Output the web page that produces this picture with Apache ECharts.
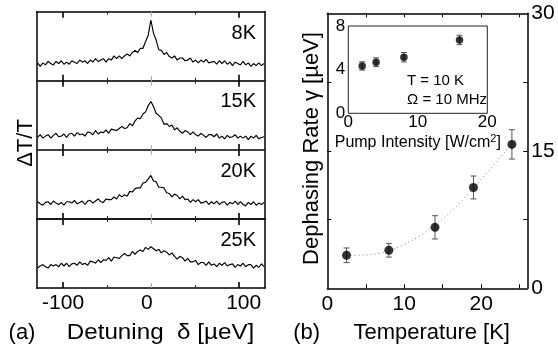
<!DOCTYPE html>
<html><head><meta charset="utf-8">
<script src="https://cdn.jsdelivr.net/npm/echarts@6/dist/echarts.min.js"></script>
<style>html,body{margin:0;padding:0;background:#fff}#c{width:558px;height:353px}</style>
</head><body><div id="c"></div>
<script>
// ---- Panel (a): differential transmission traces ----
const detuning = [-129,-126,-123,-120,-117,-114,-111,-108,-105,-102,-99,-96,-93,-90,-87,-84,-81,-78,-75,-72,-69,-66,-63,-60,-57,-54,-51,-48,-45,-42,-39,-36,-33,-30,-27,-24,-21,-18,-15,-12,-9,-6,-3,0,3,6,9,12,15,18,21,24,27,30,33,36,39,42,45,48,51,54,57,60,63,66,69,72,75,78,81,84,87,90,93,96,99,102,105,108,111,114,117,120,123,126,129];
const trace8K = [.26,.21,.26,.23,.28,.25,.23,.28,.25,.29,.24,.27,.24,.29,.27,.25,.30,.27,.29,.25,.30,.27,.32,.28,.30,.32,.27,.32,.30,.36,.32,.36,.32,.36,.39,.36,.41,.44,.41,.47,.47,.57,.66,.88,.69,.59,.45,.44,.38,.41,.35,.33,.36,.30,.33,.33,.29,.30,.33,.27,.30,.26,.30,.27,.31,.26,.27,.28,.24,.29,.25,.29,.24,.27,.22,.27,.25,.23,.28,.23,.26,.21,.25,.22,.26,.22,.25];
const trace15K = [.18,.22,.17,.20,.22,.17,.21,.24,.19,.20,.23,.18,.23,.24,.20,.25,.22,.23,.20,.26,.25,.22,.28,.23,.26,.25,.29,.24,.30,.29,.28,.31,.34,.31,.32,.38,.35,.42,.46,.45,.52,.55,.64,.70,.63,.53,.50,.46,.37,.38,.34,.36,.29,.32,.27,.24,.28,.26,.22,.26,.22,.20,.24,.21,.18,.22,.22,.19,.23,.17,.20,.16,.21,.18,.19,.22,.17,.20,.17,.20,.15,.20,.17,.21,.16,.18,.19];
const trace20K = [.25,.22,.20,.24,.25,.21,.26,.23,.21,.24,.20,.25,.25,.23,.27,.22,.24,.26,.21,.26,.27,.23,.26,.29,.25,.24,.29,.28,.28,.32,.29,.35,.32,.35,.33,.40,.39,.44,.45,.45,.52,.53,.58,.63,.55,.54,.46,.46,.45,.38,.37,.32,.36,.34,.29,.33,.28,.29,.24,.28,.25,.28,.23,.24,.26,.21,.25,.22,.26,.21,.24,.25,.20,.24,.22,.26,.21,.25,.21,.19,.24,.21,.25,.20,.23,.21,.24];
const trace25K = [.29,.32,.34,.31,.29,.34,.32,.34,.31,.36,.32,.36,.31,.35,.36,.33,.38,.34,.36,.33,.39,.38,.36,.41,.37,.41,.40,.44,.39,.45,.44,.43,.47,.50,.47,.47,.53,.49,.53,.55,.53,.59,.56,.60,.57,.54,.56,.51,.54,.52,.48,.51,.46,.42,.46,.44,.39,.43,.38,.38,.40,.34,.37,.37,.33,.38,.33,.35,.31,.36,.33,.37,.32,.34,.35,.30,.34,.32,.36,.31,.34,.34,.29,.33,.30,.35,.31];
const traceLabels = ['8K', '15K', '20K', '25K'];
const detuningTicksMajor = [-100, 100];
const detuningTicksMinor = [-50, 50];
const detuningTicksZero = [0];
const detuningLabels = [-100, 0, 100];

// ---- Panel (b): dephasing rate vs temperature ----
const temperature = [2.5, 8, 14, 19, 24];
const gamma = [3.6, 4.15, 6.65, 11.0, 15.7];
const gammaErr = [0.8, 0.75, 1.27, 1.25, 1.6];
const fitT = [2.5, 5, 7, 8, 10, 12, 14, 16, 18, 20, 22, 24, 24.6];
const fitGamma = [3.55, 3.65, 3.85, 4.1, 4.8, 5.7, 6.9, 8.3, 10.0, 11.9, 13.8, 15.8, 16.4];
const tempTicks = [5, 10, 15, 20, 25];
const tempLabels = [0, 10, 20];
const gammaTicks = [7.5, 15, 22.5];
const gammaLabels = [0, 15, 30];

// ---- Inset: dephasing rate vs pump intensity ----
const pump = [2, 4, 8, 16];
const gammaPump = [4.34, 4.68, 5.14, 6.72];
const gammaPumpErr = [0.38, 0.4, 0.43, 0.43];
const pumpLabels = [0, 10, 20];
const gammaPumpLabels = [0, 4, 8];

const FONT = '"Liberation Sans", Arial, Helvetica, sans-serif';
const grids = [], xAxes = [], yAxes = [], series = [];
const traces = [trace8K, trace15K, trace20K, trace25K];
const pTop = 11.7, pH = 69.1, pLeft = 36.7, pW = 228.3;

function hiddenX(gi, pos) {
  return {type: 'value', gridIndex: gi, position: pos, min: -130, max: 130,
    splitLine: {show: false}, axisLabel: {show: false}, axisLine: {show: false}, axisTick: {show: false}};
}
const detLabelStyle = {fontSize: 21, fontFamily: FONT, color: '#000'};
traces.forEach((tr, i) => {
  grids.push({left: pLeft, top: pTop + i * pH, width: pW, height: pH, containLabel: false, outerBoundsMode: 'none'});
  const gi = grids.length - 1;
  const frame = {show: true, onZero: false, lineStyle: {color: i === 0 || i === 3 ? '#000' : '#333', width: 1.5}};
  const mainX = Object.assign(hiddenX(gi, 'bottom'), {
    axisLine: frame,
    axisTick: {show: true, inside: true, length: 6, customValues: detuningTicksMajor, lineStyle: {color: '#000', width: 1.6}},
    axisLabel: i === 3 ? {show: true, customValues: detuningLabels, fontSize: 21, margin: 5, color: '#000', fontFamily: FONT,
      formatter: v => v === 0 ? '{z|0}' : (v === 100 ? '{h|100}' : String(v)),
      rich: {z: Object.assign({padding: [0, 8, 0, 0]}, detLabelStyle), h: Object.assign({padding: [0, 0, 0, 10]}, detLabelStyle)}} : {show: false}
  });
  xAxes.push(mainX);
  const mainIdx = xAxes.length - 1;
  xAxes.push(Object.assign(hiddenX(gi, 'top'), {
    axisLine: frame,
    axisTick: {show: true, inside: true, length: 6, customValues: detuningTicksMajor, lineStyle: {color: '#000', width: 1.6}}
  }));
  ['bottom', 'top'].forEach(pos => {
    xAxes.push(Object.assign(hiddenX(gi, pos), {axisTick: {show: true, inside: true, length: 3, customValues: detuningTicksMinor, lineStyle: {color: '#222', width: 1}}}));
    xAxes.push(Object.assign(hiddenX(gi, pos), {axisTick: {show: true, inside: true, length: 5, customValues: detuningTicksZero, lineStyle: {color: '#aaa', width: 1}}}));
  });
  ['left', 'right'].forEach(pos => {
    yAxes.push({type: 'value', gridIndex: gi, position: pos, min: 0, max: 1,
      axisLine: {show: true, onZero: false, lineStyle: {color: '#000', width: 1.5}},
      axisTick: {show: false}, axisLabel: {show: false}, splitLine: {show: false}});
  });
  const yIdx = yAxes.length - 2;
  series.push({type: 'line', xAxisIndex: mainIdx, yAxisIndex: yIdx, symbol: 'none', showSymbol: false,
    data: detuning.map((x, k) => [x, tr[k]]), lineStyle: {color: '#000', width: 1.15}, z: 3});
});

// Main temperature grid
grids.push({left: 327.3, top: 13.3, width: 200, height: 275, containLabel: false, outerBoundsMode: 'none'});
const gT = grids.length - 1;
const tFrame = {show: true, onZero: false, lineStyle: {color: '#000', width: 1.5}};
xAxes.push({type: 'value', gridIndex: gT, position: 'bottom', min: 0, max: 26, splitLine: {show: false},
  axisLine: tFrame, axisTick: {show: true, inside: true, length: 4, customValues: tempTicks, lineStyle: {color: '#000', width: 1}},
  axisLabel: {show: true, customValues: tempLabels, fontSize: 21, margin: 5, color: '#000', fontFamily: FONT}});
const xT = xAxes.length - 1;
xAxes.push({type: 'value', gridIndex: gT, position: 'top', min: 0, max: 26, splitLine: {show: false},
  axisLine: tFrame, axisTick: {show: true, inside: true, length: 4, customValues: tempTicks, lineStyle: {color: '#000', width: 1}},
  axisLabel: {show: false}});
yAxes.push({type: 'value', gridIndex: gT, position: 'right', min: 0, max: 30, splitLine: {show: false},
  axisLine: tFrame, axisTick: {show: true, inside: true, length: 4, customValues: gammaTicks, lineStyle: {color: '#000', width: 1}},
  axisLabel: {show: true, customValues: gammaLabels, fontSize: 21, margin: 4, color: '#000', fontFamily: FONT}});
const yT = yAxes.length - 1;
yAxes.push({type: 'value', gridIndex: gT, position: 'left', min: 0, max: 30, splitLine: {show: false},
  axisLine: tFrame, axisTick: {show: true, inside: true, length: 4, customValues: gammaTicks, lineStyle: {color: '#000', width: 1}},
  axisLabel: {show: false}});

// Inset grid
grids.push({left: 348.3, top: 26, width: 139, height: 87.3, show: true, borderColor: '#222', borderWidth: 1,
  backgroundColor: 'rgba(0,0,0,0)', containLabel: false, outerBoundsMode: 'none'});
const gI = grids.length - 1;
xAxes.push({type: 'value', gridIndex: gI, position: 'bottom', min: 0, max: 20, splitLine: {show: false},
  axisLine: {show: false}, axisTick: {show: false},
  axisLabel: {show: true, customValues: pumpLabels, fontSize: 17, margin: 1, color: '#000', fontFamily: FONT},
  name: 'Pump Intensity [W/cm{sup|2}]', nameLocation: 'middle', nameGap: 20,
  nameTextStyle: {fontSize: 16, color: '#000', fontFamily: FONT, rich: {sup: {fontSize: 11, verticalAlign: 'top', padding: [0, 0, 8, 0], fontFamily: FONT}}}});
const xI = xAxes.length - 1;
yAxes.push({type: 'value', gridIndex: gI, position: 'left', min: 0, max: 8, splitLine: {show: false},
  axisLine: {show: false}, axisTick: {show: false},
  axisLabel: {show: true, customValues: gammaPumpLabels, fontSize: 17, margin: 3, color: '#000', fontFamily: FONT}});
const yI = yAxes.length - 1;

function errRender(capHalf, color) {
  return function (params, api) {
    const x = api.value(0), y = api.value(1), e = api.value(2);
    const top = api.coord([x, y + e]), bot = api.coord([x, y - e]);
    const st = {stroke: color, lineWidth: 1};
    return {type: 'group', children: [
      {type: 'line', shape: {x1: top[0], y1: top[1], x2: bot[0], y2: bot[1]}, style: st},
      {type: 'line', shape: {x1: top[0] - capHalf, y1: top[1], x2: top[0] + capHalf, y2: top[1]}, style: st},
      {type: 'line', shape: {x1: bot[0] - capHalf, y1: bot[1], x2: bot[0] + capHalf, y2: bot[1]}, style: st}
    ]};
  };
}

series.push({type: 'line', xAxisIndex: xT, yAxisIndex: yT, data: fitT.map((t, i) => [t, fitGamma[i]]),
  smooth: 0.4, symbol: 'none', lineStyle: {color: '#888', width: 1, type: [1, 3]}, z: 2});
series.push({type: 'custom', xAxisIndex: xT, yAxisIndex: yT, renderItem: errRender(3, '#555'),
  data: temperature.map((t, i) => [t, gamma[i], gammaErr[i]]), z: 3});
series.push({type: 'scatter', xAxisIndex: xT, yAxisIndex: yT, data: temperature.map((t, i) => [t, gamma[i]]),
  symbolSize: 9, itemStyle: {color: '#000'}, z: 4});
series.push({type: 'custom', xAxisIndex: xI, yAxisIndex: yI, renderItem: errRender(3, '#555'),
  data: pump.map((p, i) => [p, gammaPump[i], gammaPumpErr[i]]), z: 3});
series.push({type: 'scatter', xAxisIndex: xI, yAxisIndex: yI, data: pump.map((p, i) => [p, gammaPump[i]]),
  symbolSize: 7.5, itemStyle: {color: '#000'}, z: 4});

function txt(text, x, y, size, align, rot, sx) {
  return {type: 'text', x: x, y: y, rotation: rot || 0, scaleX: sx || 1, z: 10,
    style: {text: text, fill: '#000', fontSize: size, fontFamily: FONT, align: align, textAlign: align,
      verticalAlign: 'middle', textVerticalAlign: 'middle'}};
}
const panelLabelY = [33, 101.7, 171.7, 240];
const graphics = [
  txt('(a)', 22, 333, 22, 'center'),
  txt('Detuning  δ [µeV]', 160.5, 333, 22, 'center', 0, 1.1),
  txt('(b)', 306.7, 333, 22, 'center'),
  txt('Temperature [K]', 431.7, 333, 22, 'center'),
  txt('ΔT/T', 25.5, 143, 22, 'center', Math.PI / 2),
  txt('Dephasing Rate γ [µeV]', 311.5, 148.5, 22, 'center', Math.PI / 2),
  txt('T = 10 K', 407, 80.7, 15, 'left'),
  txt('Ω = 10 MHz', 407, 100, 15, 'left')
];
traceLabels.forEach((l, i) => graphics.push(txt(l, 256, panelLabelY[i], 20, 'right')));

const chart = echarts.init(document.getElementById('c'), null, {renderer: 'canvas'});
chart.setOption({
  animation: false,
  backgroundColor: '#fff',
  textStyle: {fontFamily: FONT, color: '#000'},
  grid: grids, xAxis: xAxes, yAxis: yAxes, series: series, graphic: graphics
});
</script></body></html>
